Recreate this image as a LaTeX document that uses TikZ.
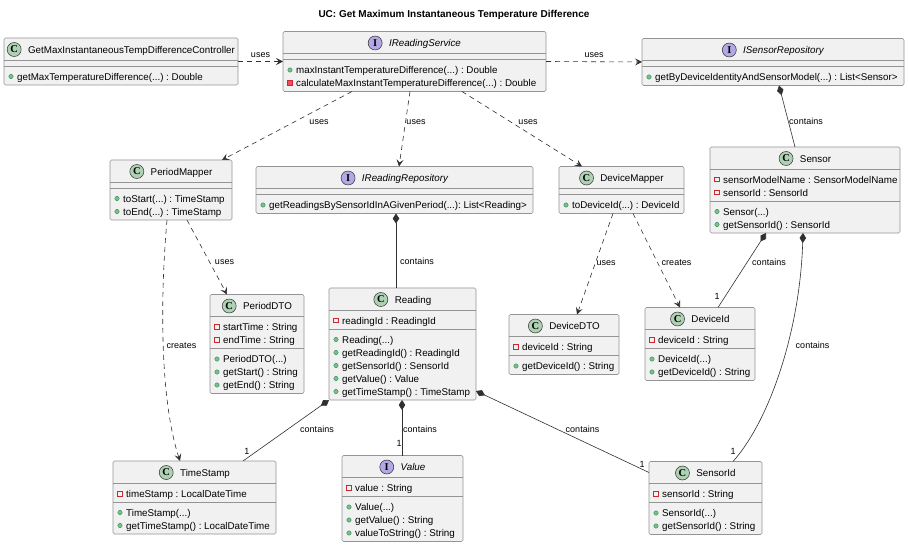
\documentclass[tikz,border=0pt]{standalone}
\usepackage{fontspec}
\setmainfont{Liberation Sans}
\newfontfamily\iconfont{Liberation Serif}
\usetikzlibrary{arrows.meta,calc}
\frenchspacing

\definecolor{boxfill}{HTML}{F1F1F1}
\definecolor{boxline}{HTML}{949494}
\definecolor{edgeline}{HTML}{303030}
\definecolor{iconC}{HTML}{ADD1B2}
\definecolor{iconI}{HTML}{B4A7E5}
\definecolor{pubfill}{HTML}{84BE84}
\definecolor{publine}{HTML}{038048}
\definecolor{privline}{HTML}{C82930}
\definecolor{privfill}{HTML}{F24D5C}

\newcount\memcnt

% class box: id, left, top, width, height
\newcommand\umlbox[5]{%
  \node[cls, minimum width=#4, minimum height=#5, anchor=north west] (#1) at (#2,#3) {};}
% compartment separator at a given offset below the top
\newcommand\usep[2]{%
  \draw[sepline] ($(#1.north west)+(0,#2)$) -- ($(#1.north east)+(0,#2)$);}
% header: id, letter, icon colour, name
\newcommand\uhead[4]{%
  \node[cname] (#1-name) at ($(#1.north)+(10.5,11.5)$) {#4};
  \node[cicon, fill=#3] (#1-icon) at ($(#1-name.west)+(-13.7,0)$) {#2};}
% public member
\newcommand\upub[3]{%
  \global\advance\memcnt by 1
  \filldraw[pubdot] ($(#1.north west)+(7,#2)$) circle[radius=2.2pt];
  \node[mem] (mem\the\memcnt) at ($(#1.north west)+(13,#2)$) {#3};}
% private field
\newcommand\upriv[3]{%
  \global\advance\memcnt by 1
  \draw[privsq] ($(#1.north west)+(4.7,#2-2.3)$) rectangle ++(4.6,4.6);
  \node[mem] (mem\the\memcnt) at ($(#1.north west)+(13,#2)$) {#3};}
% private method
\newcommand\uprivm[3]{%
  \global\advance\memcnt by 1
  \filldraw[privsq, fill=privfill] ($(#1.north west)+(4.7,#2-2.3)$) rectangle ++(4.6,4.6);
  \node[mem] (mem\the\memcnt) at ($(#1.north west)+(13,#2)$) {#3};}

\begin{document}
\begin{tikzpicture}[x=1pt, y=-1pt,
  cls/.style={draw=boxline, fill=boxfill, line width=0.6pt, rounded corners=1.5pt, inner sep=0pt, outer sep=0pt},
  sepline/.style={draw=boxline, line width=0.6pt},
  cname/.style={inner sep=0pt, font=\fontsize{9.8}{11}\selectfont, text height=7.2pt, text depth=0pt},
  cicon/.style={circle, draw=edgeline, line width=0.5pt, minimum size=14pt, inner sep=0pt,
    font=\iconfont\bfseries\fontsize{10.5}{10.5}\selectfont},
  mem/.style={anchor=west, inner sep=0pt, font=\fontsize{9.8}{11}\selectfont, text height=7.2pt, text depth=0pt},
  pubdot/.style={fill=pubfill, draw=publine, line width=0.3pt},
  privsq/.style={draw=privline, line width=0.6pt},
  lbl/.style={inner sep=0pt, font=\fontsize{9}{10}\selectfont, text height=6.5pt, text depth=0pt},
  dep/.style={draw=edgeline, line width=0.6pt, dash pattern=on 5pt off 4pt,
    -{Stealth[length=7pt, width=7pt, inset=3pt]}},
  comp/.style={draw=edgeline, line width=0.6pt, {Diamond[length=10pt, width=6.5pt]}-},
]
\useasboundingbox[fill=white] (0,0) rectangle (908,545);

\node[font=\bfseries\fontsize{10}{12}\selectfont, inner sep=0pt] (title) at (454,15)
  {UC: Get Maximum Instantaneous Temperature Difference};

% ---- controller and services
\umlbox{ctrl}{4}{38}{234}{47}
\usep{ctrl}{22}\usep{ctrl}{28}
\uhead{ctrl}{C}{iconC}{GetMaxInstantaneousTempDifferenceController}
\upub{ctrl}{38.5}{getMaxTemperatureDifference(...) : Double}

\umlbox{irs}{283}{31.5}{263}{60}
\usep{irs}{22}\usep{irs}{28}
\uhead{irs}{I}{iconI}{\itshape IReadingService}
\upub{irs}{38.5}{maxInstantTemperatureDifference(...) : Double}
\uprivm{irs}{51.5}{calculateMaxInstantTemperatureDifference(...) : Double}

\umlbox{isr}{642}{38.5}{262}{47}
\usep{isr}{22}\usep{isr}{28}
\uhead{isr}{I}{iconI}{\itshape ISensorRepository}
\upub{isr}{38.5}{getByDeviceIdentityAndSensorModel(...) : List<Sensor>}

% ---- mappers and repository
\umlbox{pm}{110}{160}{122}{60}
\usep{pm}{22}\usep{pm}{28}
\uhead{pm}{C}{iconC}{PeriodMapper}
\upub{pm}{38.5}{toStart(...) : TimeStamp}
\upub{pm}{51.5}{toEnd(...) : TimeStamp}

\umlbox{irr}{256}{166.5}{277}{47}
\usep{irr}{22}\usep{irr}{28}
\uhead{irr}{I}{iconI}{\itshape IReadingRepository}
\upub{irr}{38.5}{getReadingsBySensorIdInAGivenPeriod(...): List<Reading>}

\umlbox{dm}{559}{166.5}{125}{47}
\usep{dm}{22}\usep{dm}{28}
\uhead{dm}{C}{iconC}{DeviceMapper}
\upub{dm}{38.5}{toDeviceId(...) : DeviceId}

\umlbox{sensor}{710}{147}{190}{86}
\usep{sensor}{22}\usep{sensor}{54}
\uhead{sensor}{C}{iconC}{Sensor}
\upriv{sensor}{32.5}{sensorModelName : SensorModelName}
\upriv{sensor}{45.5}{sensorId : SensorId}
\upub{sensor}{64.5}{Sensor(...)}
\upub{sensor}{77.5}{getSensorId() : SensorId}

% ---- domain objects
\umlbox{pdto}{210}{294.5}{94}{99}
\usep{pdto}{22}\usep{pdto}{54}
\uhead{pdto}{C}{iconC}{PeriodDTO}
\upriv{pdto}{32.5}{startTime : String}
\upriv{pdto}{45.5}{endTime : String}
\upub{pdto}{64.5}{PeriodDTO(...)}
\upub{pdto}{77.5}{getStart() : String}
\upub{pdto}{90.5}{getEnd() : String}

\umlbox{reading}{329}{288}{147}{112}
\usep{reading}{22}\usep{reading}{41}
\uhead{reading}{C}{iconC}{Reading}
\upriv{reading}{32.5}{readingId : ReadingId}
\upub{reading}{51.5}{Reading(...)}
\upub{reading}{64.5}{getReadingId() : ReadingId}
\upub{reading}{77.5}{getSensorId() : SensorId}
\upub{reading}{90.5}{getValue() : Value}
\upub{reading}{103.5}{getTimeStamp() : TimeStamp}

\umlbox{ddto}{509}{314.5}{110}{60}
\usep{ddto}{22}\usep{ddto}{41}
\uhead{ddto}{C}{iconC}{DeviceDTO}
\upriv{ddto}{32.5}{deviceId : String}
\upub{ddto}{51.5}{getDeviceId() : String}

\umlbox{did}{645}{307.5}{110}{73}
\usep{did}{22}\usep{did}{41}
\uhead{did}{C}{iconC}{DeviceId}
\upriv{did}{32.5}{deviceId : String}
\upub{did}{51.5}{DeviceId(...)}
\upub{did}{64.5}{getDeviceId() : String}

\umlbox{ts}{113}{461}{163}{73}
\usep{ts}{22}\usep{ts}{41}
\uhead{ts}{C}{iconC}{TimeStamp}
\upriv{ts}{32.5}{timeStamp : LocalDateTime}
\upub{ts}{51.5}{TimeStamp(...)}
\upub{ts}{64.5}{getTimeStamp() : LocalDateTime}

\umlbox{value}{342}{455.5}{121}{86}
\usep{value}{22}\usep{value}{41}
\uhead{value}{I}{iconI}{\itshape Value}
\upriv{value}{32.5}{value : String}
\upub{value}{51.5}{Value(...)}
\upub{value}{64.5}{getValue() : String}
\upub{value}{77.5}{valueToString() : String}

\umlbox{sid}{649}{461.5}{113}{73}
\usep{sid}{22}\usep{sid}{41}
\uhead{sid}{C}{iconC}{SensorId}
\upriv{sid}{32.5}{sensorId : String}
\upub{sid}{51.5}{SensorId(...)}
\upub{sid}{64.5}{getSensorId() : String}

% ---- dependencies
\draw[dep] (ctrl.east) -- (irs.west);
\draw[dep] (irs.east) -- (isr.west);
\draw[dep] ($(irs.south west)+(69,0)$) -- ($(pm.north west)+(112,0)$);
\draw[dep] ($(irs.south west)+(127,0)$) -- ($(irr.north west)+(143,0)$);
\draw[dep] ($(irs.south west)+(179,0)$) -- ($(dm.north west)+(23,0)$);
\draw[dep] ($(pm.south west)+(77,0)$) -- ($(pdto.north west)+(17,0)$);
\draw[dep] ($(pm.south west)+(57,0)$) .. controls (160,300) and (160,400) .. ($(ts.north west)+(67,0)$);
\draw[dep] ($(dm.south west)+(54,0)$) -- ($(ddto.north west)+(68,0)$);
\draw[dep] ($(dm.south west)+(74,0)$) -- ($(did.north west)+(35,0)$);

% ---- compositions
\draw[comp] ($(isr.south west)+(137,0)$) -- ($(sensor.north west)+(85,0)$);
\draw[comp] ($(irr.south west)+(140,0)$) -- ($(reading.north west)+(67,0)$);
\draw[comp] ($(sensor.south west)+(56,0)$) -- ($(did.north west)+(73,0)$);
\draw[comp] ($(sensor.south west)+(93,0)$) .. controls (800,330) and (770,420) .. ($(sid.north west)+(84,0)$);
\draw[comp] (reading.south west) -- ($(ts.north west)+(130,0)$);
\draw[comp] ($(reading.south west)+(73,0)$) -- ($(value.north west)+(60,0)$);
\draw[comp] ($(reading.south east)+(0,-9)$) -- ($(sid.north west)+(0,11)$);

% ---- connector labels
\node[lbl] (l1) at (260.5,54) {uses};
\node[lbl] (l2) at (594,54) {uses};
\node[lbl] (l3) at (319,121) {uses};
\node[lbl] (l4) at (416,121) {uses};
\node[lbl] (l5) at (528,121) {uses};
\node[lbl] (l6) at (806,121) {contains};
\node[lbl] (l7) at (417,261) {contains};
\node[lbl] (l8) at (224.5,261) {uses};
\node[lbl] (l9) at (181.5,345) {creates};
\node[lbl] (l10) at (606,262) {uses};
\node[lbl] (l11) at (676.5,262) {creates};
\node[lbl] (l12) at (769,262) {contains};
\node[lbl] (l13) at (812.5,345) {contains};
\node[lbl] (l14) at (317,429) {contains};
\node[lbl] (l15) at (420,429) {contains};
\node[lbl] (l16) at (582.5,429) {contains};
\node[lbl] (m12) at (717,296) {1};
\node[lbl] (m13) at (733,451) {1};
\node[lbl] (m14) at (247,451) {1};
\node[lbl] (m15) at (399,443) {1};
\node[lbl] (m16) at (642,464) {1};
\end{tikzpicture}
\end{document}
